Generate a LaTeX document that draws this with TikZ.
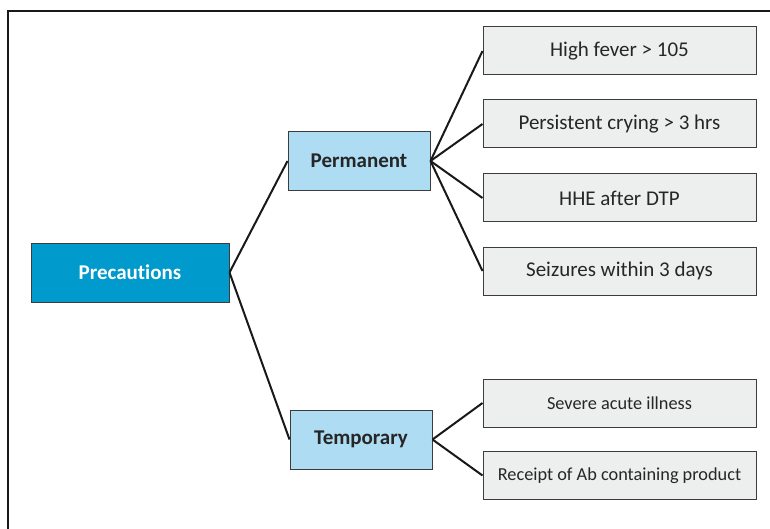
\documentclass[tikz,border=0pt]{standalone}
\usepackage{fontspec}
\setmainfont{Carlito}[Ligatures={NoCommon}]
\definecolor{rootblue}{RGB}{0,154,204}
\definecolor{midblue}{RGB}{174,220,242}
\definecolor{leafgray}{RGB}{237,238,238}
\definecolor{edgegray}{RGB}{60,60,60}
\begin{document}
\begin{tikzpicture}[x=1pt,y=-1pt,
  rootbox/.style={draw=edgegray,line width=1pt,fill=rootblue,text=white,font=\fontsize{21}{25}\selectfont\bfseries,minimum width=198pt,minimum height=59pt,inner sep=0pt},
  midbox/.style={draw=edgegray,line width=1pt,fill=midblue,text=black!85,font=\fontsize{21}{25}\selectfont\bfseries,minimum width=142pt,minimum height=59pt,inner sep=0pt},
  leafbox/.style={draw=edgegray,line width=1pt,fill=leafgray,text=black!85,font=\fontsize{21}{25}\selectfont,minimum width=273pt,minimum height=48pt,inner sep=0pt},
  smallleaf/.style={leafbox,font=\fontsize{18.3}{22}\selectfont},
  link/.style={draw=black!90,line width=2pt},
  frame/.style={draw=black!90,line width=2.5pt}]
\useasboundingbox (0,0) rectangle (770,529);
\draw[frame] (8,529) -- (8,11) -- (770,11);
\node[rootbox] (pre) at (130,272.5) {Precautions};
\node[midbox] (perm) at (359,161) {Permanent};
\node[midbox] (temp) at (361,439.5) {Temporary};
\node[leafbox] (l1) at (619.5,51) {High fever > 105};
\node[leafbox] (l2) at (619.5,124) {Persistent crying > 3 hrs};
\node[leafbox] (l3) at (619.5,198) {HHE after DTP};
\node[leafbox] (l4) at (619.5,271) {Seizures within 3 days};
\node[smallleaf] (t1) at (619.5,403) {Severe acute illness};
\node[smallleaf] (t2) at (619.5,475.5) {Receipt of Ab containing product};
\draw[link] (pre.east) -- (perm.west);
\draw[link] (pre.east) -- (temp.west);
\foreach \n in {l1,l2,l3,l4} \draw[link] (perm.east) -- (\n.west);
\foreach \n in {t1,t2} \draw[link] (temp.east) -- (\n.west);
\end{tikzpicture}
\end{document}
